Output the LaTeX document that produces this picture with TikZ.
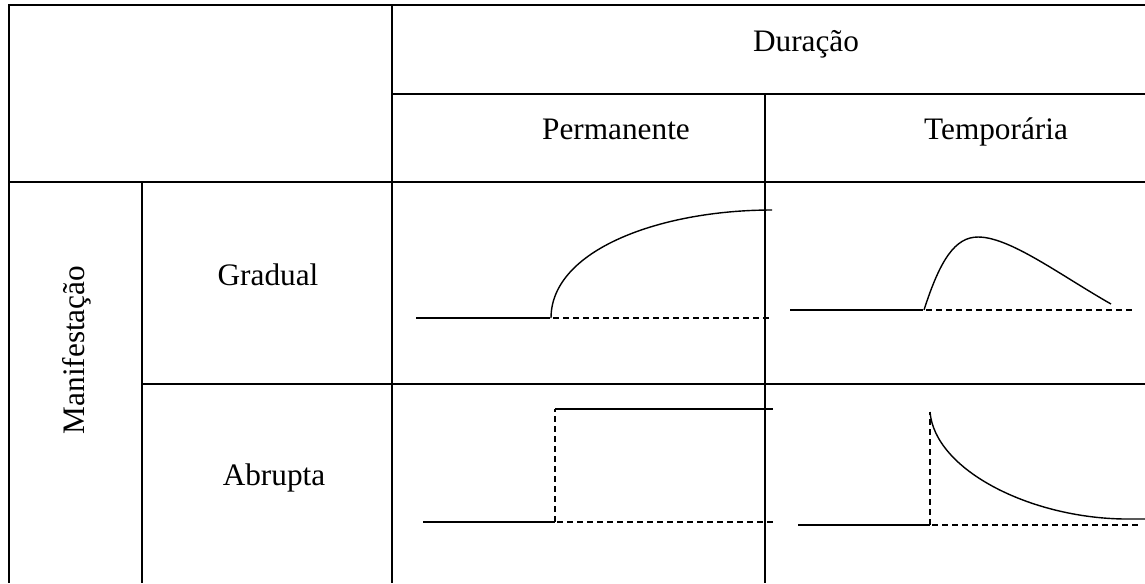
\documentclass[tikz,border=0pt]{standalone}
\usepackage{fontspec}
\setmainfont{Liberation Serif}
\tikzset{
	grade/.style={line width=0.9pt},
	curva/.style={line width=0.8pt},
	tracejado/.style={line width=0.8pt, dash pattern=on 3.4pt off 2.3pt},
	rotulo/.style={anchor=base, inner sep=0pt, font=\fontsize{17.8}{20}\selectfont}
}
\begin{document}
\begin{tikzpicture}[x=0.02cm, y=-0.02cm]
			\useasboundingbox (0,0) rectangle (1145,583);
			% grade da tabela
			\draw[grade] (1145,5) -- (9,5) -- (9,583);
			\draw[grade] (9,182) -- (1145,182);
			\draw[grade] (392,5) -- (392,583);
			\draw[grade] (392,94) -- (1145,94);
			\draw[grade] (765,94) -- (765,583);
			\draw[grade] (142,182) -- (142,583);
			\draw[grade] (142,384) -- (1145,384);
			% textos
			\node[rotulo] (dur) at (806,51) {Duração};
			\node[rotulo] (perm) at (616,139) {Permanente};
			\node[rotulo] (temp) at (996,139) {Temporária};
			\node[rotulo] (grad) at (268,285) {Gradual};
			\node[rotulo] (abr) at (274,485) {Abrupta};
			\node[rotulo, rotate=90] (manif) at (84,350) {Manifestação};
			% gradual permanente
			\draw[curva] (416,318) -- (550,318);
			\draw[curva] (551,318) .. controls (551,250) and (660,210) .. (772,210);
			\draw[tracejado] (553,318) -- (772,318);
			% gradual temporaria
			\draw[curva] (790,310) -- (923,310);
			\draw[curva] (924,310) .. controls (940,260) and (955,237) .. (978,237) .. controls (1010,237) and (1060,275) .. (1111,304);
			\draw[tracejado] (926,310) -- (1135,310);
			% abrupta permanente
			\draw[curva] (423,522) -- (555,522);
			\draw[tracejado] (555,522) -- (555,409);
			\draw[curva] (555,409) -- (773,409);
			\draw[tracejado] (557,522) -- (773,522);
			% abrupta temporaria
			\draw[curva] (798,525) -- (930,525);
			\draw[tracejado] (930,525) -- (930,412);
			\draw[curva] (930,412) .. controls (935,470) and (1030,518) .. (1125,519) -- (1145,519);
			\draw[tracejado] (932,525) -- (1140,525);
		\end{tikzpicture}
\end{document}
